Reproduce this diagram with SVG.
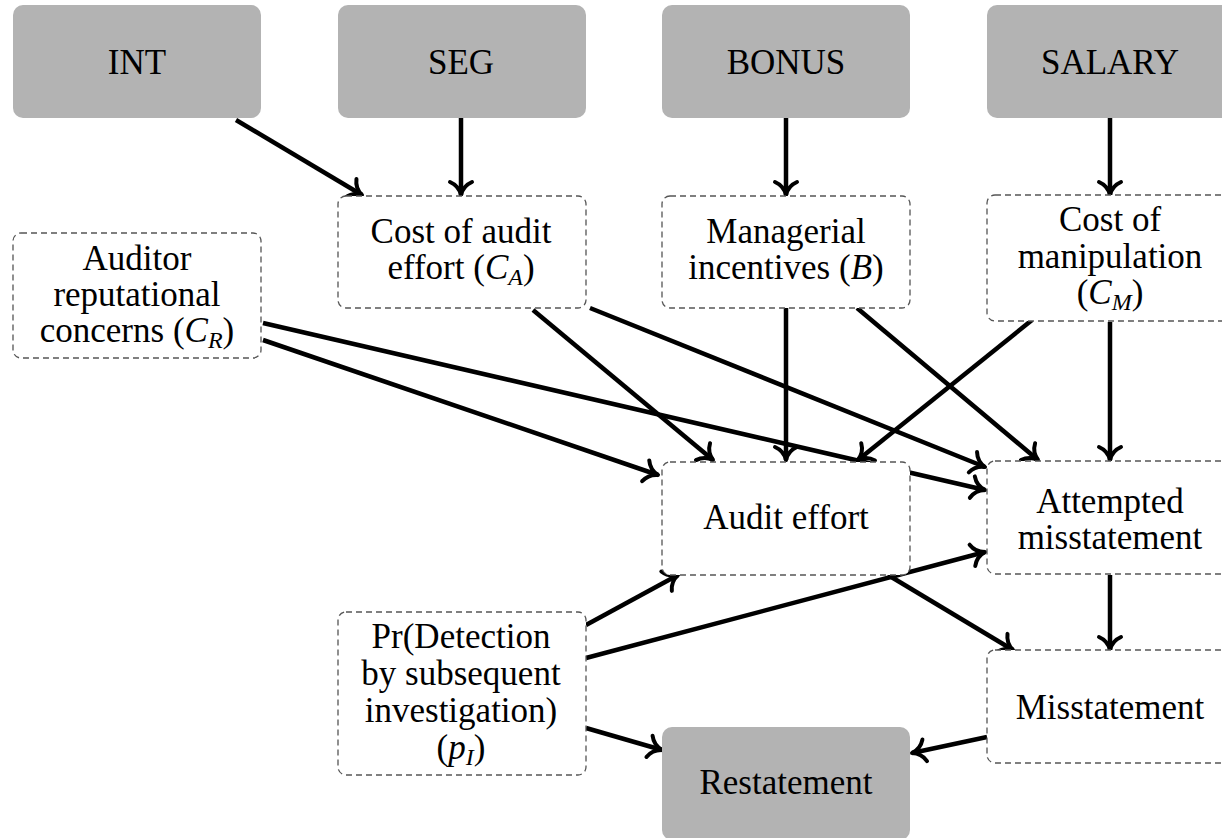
<svg xmlns="http://www.w3.org/2000/svg" width="1222" height="838" viewBox="0 0 1222 838">
  <style>
    .solid { fill: #b3b3b3; stroke: none; }
    .dash { fill: #ffffff; stroke: #555555; stroke-width: 1.3; stroke-dasharray: 6 4; }
    text { font-family: "Liberation Serif", "Times New Roman", serif; font-size: 35px; fill: #000000; text-anchor: middle; }
    .it { font-style: italic; }
    .sub { font-size: 24px; font-style: italic; }
    .edge { stroke: #000000; stroke-width: 4.5; fill: none; marker-end: url(#arr); }
  </style>
  <defs>
    <marker id="arr" markerUnits="userSpaceOnUse" markerWidth="32" markerHeight="32" viewBox="-16 -16 32 32" refX="0" refY="0" orient="auto">
      <path d="M -13 -11 C -10 -4 -4 -1 0 0 C -4 1 -10 4 -13 11" fill="none" stroke="#000000" stroke-width="4" stroke-linecap="round" stroke-linejoin="round"/>
    </marker>
  </defs>
  <rect width="1222" height="838" fill="#ffffff"/>

  <g id="connectors">
    <path class="edge" d="M236 120 L362 195"/>
    <path class="edge" d="M461 118 L461 195"/>
    <path class="edge" d="M786 118 L786 195"/>
    <path class="edge" d="M1110 118 L1110 195"/>
    <path class="edge" d="M263 323 L985 490"/>
    <path class="edge" d="M263 340 L658 475"/>
    <path class="edge" d="M533 310 L713 460"/>
    <path class="edge" d="M590 308 L985 467"/>
    <path class="edge" d="M786 308 L786 460"/>
    <path class="edge" d="M857 308 L1038 460"/>
    <path class="edge" d="M1032 320 L858 460"/>
    <path class="edge" d="M1110 322 L1110 460"/>
    <path class="edge" d="M586 625 L678 575"/>
    <path class="edge" d="M586 658 L985 552"/>
    <path class="edge" d="M888 575 L1013 650"/>
    <path class="edge" d="M1110 575 L1110 650"/>
    <path class="edge" d="M586 728 L662 750"/>
    <path class="edge" d="M987 737 L912 753"/>
  </g>

  <g id="int">
    <rect class="solid" x="13" y="5" width="248" height="113" rx="10"/>
    <text x="137" y="74">INT</text>
  </g>
  <g id="seg">
    <rect class="solid" x="338" y="5" width="248" height="113" rx="10"/>
    <text x="461" y="74">SEG</text>
  </g>
  <g id="bonus">
    <rect class="solid" x="662" y="5" width="248" height="113" rx="10"/>
    <text x="786" y="74">BONUS</text>
  </g>
  <g id="salary">
    <rect class="solid" x="987" y="5" width="248" height="113" rx="10"/>
    <text x="1110" y="74">SALARY</text>
  </g>

  <g id="auditor-reputational">
    <rect class="dash" x="13" y="233" width="248" height="125" rx="8"/>
    <text x="137" y="270">Auditor<tspan x="137" dy="36">reputational</tspan><tspan x="137" dy="36">concerns (</tspan><tspan class="it">C</tspan><tspan class="sub" dy="6">R</tspan><tspan dy="-6">)</tspan></text>
  </g>
  <g id="cost-audit-effort">
    <rect class="dash" x="338" y="196" width="248" height="112" rx="8"/>
    <text x="461" y="243">Cost of audit<tspan x="461" dy="36">effort (</tspan><tspan class="it">C</tspan><tspan class="sub" dy="6">A</tspan><tspan dy="-6">)</tspan></text>
  </g>
  <g id="managerial-incentives">
    <rect class="dash" x="662" y="196" width="248" height="112" rx="8"/>
    <text x="786" y="243">Managerial<tspan x="786" dy="36">incentives (</tspan><tspan class="it">B</tspan>)</text>
  </g>
  <g id="cost-manipulation">
    <rect class="dash" x="987" y="195" width="248" height="126" rx="8"/>
    <text x="1110" y="231">Cost of<tspan x="1110" dy="37">manipulation</tspan><tspan x="1110" dy="36">(</tspan><tspan class="it">C</tspan><tspan class="sub" dy="6">M</tspan><tspan dy="-6">)</tspan></text>
  </g>
  <g id="audit-effort">
    <rect class="dash" x="662" y="462" width="248" height="113" rx="8"/>
    <text x="786" y="529">Audit effort</text>
  </g>
  <g id="attempted-misstatement">
    <rect class="dash" x="987" y="461" width="248" height="113" rx="8"/>
    <text x="1110" y="513">Attempted<tspan x="1110" dy="36">misstatement</tspan></text>
  </g>
  <g id="pr-detection">
    <rect class="dash" x="338" y="612" width="248" height="163" rx="8"/>
    <text x="461" y="648">Pr(Detection<tspan x="461" dy="37">by subsequent</tspan><tspan x="461" dy="37">investigation)</tspan><tspan x="461" dy="37">(</tspan><tspan class="it">p</tspan><tspan class="sub" dy="6">I</tspan><tspan dy="-6">)</tspan></text>
  </g>
  <g id="misstatement">
    <rect class="dash" x="987" y="650" width="248" height="113" rx="8"/>
    <text x="1110" y="719">Misstatement</text>
  </g>
  <g id="restatement">
    <rect class="solid" x="662" y="727" width="248" height="113" rx="10"/>
    <text x="786" y="794">Restatement</text>
  </g>
</svg>
